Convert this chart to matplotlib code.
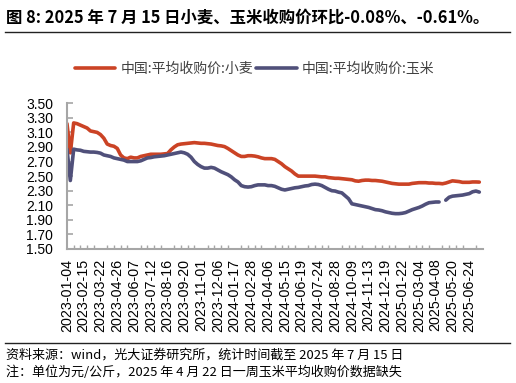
import numpy as np
import matplotlib
matplotlib.use("Agg")
import matplotlib.pyplot as plt
from matplotlib.lines import Line2D
from matplotlib.ticker import FixedLocator, FormatStrFormatter

plt.rcParams['font.family'] = ['Noto Sans CJK SC', 'DejaVu Sans']

# weekly purchase prices, yuan/kg (one value per week, 2023-01-04 .. 2025-07-15)
wheat = [3.22, 2.82, 3.23, 3.22, 3.20, 3.18, 3.16, 3.12, 3.11, 3.10,
         3.07, 3.02, 2.94, 2.92, 2.91, 2.88, 2.79, 2.75, 2.74, 2.76,
         2.75, 2.75, 2.77, 2.78, 2.79, 2.80, 2.80, 2.80, 2.80, 2.805,
         2.81, 2.86, 2.90, 2.93, 2.94, 2.945, 2.95, 2.955, 2.96, 2.955,
         2.95, 2.95, 2.945, 2.94, 2.93, 2.92, 2.915, 2.905, 2.88, 2.85,
         2.82, 2.79, 2.77, 2.77, 2.78, 2.78, 2.775, 2.765, 2.75, 2.74,
         2.74, 2.74, 2.73, 2.70, 2.67, 2.63, 2.60, 2.57, 2.53, 2.50,
         2.50, 2.50, 2.50, 2.50, 2.50, 2.495, 2.49, 2.49, 2.48, 2.475,
         2.47, 2.47, 2.465, 2.46, 2.455, 2.45, 2.435, 2.43, 2.44, 2.445,
         2.445, 2.44, 2.44, 2.435, 2.43, 2.42, 2.41, 2.40, 2.395, 2.39,
         2.39, 2.39, 2.39, 2.40, 2.405, 2.41, 2.41, 2.41, 2.405, 2.405,
         2.40, 2.40, 2.395, 2.405, 2.42, 2.435, 2.43, 2.425, 2.415, 2.415,
         2.415, 2.42, 2.42, 2.418]

# 2025-04-22 week missing for corn
corn = [2.87, 2.44, 2.87, 2.86, 2.855, 2.84, 2.835, 2.83, 2.83, 2.825,
        2.815, 2.79, 2.78, 2.77, 2.75, 2.74, 2.73, 2.72, 2.70, 2.70,
        2.70, 2.70, 2.71, 2.73, 2.75, 2.755, 2.765, 2.77, 2.775, 2.78,
        2.79, 2.80, 2.81, 2.82, 2.83, 2.82, 2.80, 2.76, 2.70, 2.66,
        2.63, 2.61, 2.61, 2.62, 2.61, 2.585, 2.56, 2.54, 2.52, 2.49,
        2.45, 2.42, 2.37, 2.355, 2.35, 2.355, 2.37, 2.38, 2.38, 2.38,
        2.37, 2.37, 2.36, 2.34, 2.32, 2.31, 2.32, 2.33, 2.34, 2.345,
        2.355, 2.365, 2.37, 2.385, 2.39, 2.385, 2.37, 2.345, 2.32, 2.30,
        2.295, 2.28, 2.27, 2.23, 2.19, 2.12, 2.11, 2.10, 2.09, 2.08,
        2.07, 2.055, 2.04, 2.035, 2.025, 2.01, 2.00, 1.99, 1.985, 1.985,
        1.99, 2.00, 2.02, 2.04, 2.055, 2.07, 2.09, 2.115, 2.135, 2.14,
        2.145, 2.145, np.nan, 2.17, 2.21, 2.225, 2.23, 2.235, 2.24, 2.25,
        2.26, 2.285, 2.295, 2.281]

# every fifth week is labelled
tick_labels = ['2023-01-04', '2023-02-15', '2023-03-22', '2023-04-26', '2023-06-07',
               '2023-07-12', '2023-08-16', '2023-09-20', '2023-11-01', '2023-12-06',
               '2024-01-17', '2024-02-28', '2024-04-06', '2024-05-15', '2024-06-19',
               '2024-07-24', '2024-08-28', '2024-10-09', '2024-11-13', '2024-12-19',
               '2025-01-22', '2025-03-04', '2025-04-08', '2025-05-20', '2025-06-24']

names = ['中国:平均收购价:小麦', '中国:平均收购价:玉米']
title = '图 8: 2025 年 7 月 15 日小麦、玉米收购价环比-0.08%、-0.61%。'
source = '资料来源：wind，光大证券研究所，统计时间截至 2025 年 7 月 15 日'
note = '注：单位为元/公斤，2025 年 4 月 22 日一周玉米平均收购价数据缺失'

RED = '#CB4325'
BLUE = '#50507A'
GREY = '#A6A6A6'


def main():
    fig = plt.figure(figsize=(5.16, 3.83), dpi=100)
    ax = fig.add_axes([0.1298, 0.3499, 0.8062, 0.3805])

    x = np.arange(len(wheat))
    ax.plot(x, wheat, color=RED, lw=2.6, solid_capstyle='round', label=names[0])
    ax.plot(x, corn, color=BLUE, lw=2.6, solid_capstyle='round', label=names[1])

    ax.set_xlim(0, len(wheat) + 0.1)
    ax.set_ylim(1.5, 3.5)
    ax.set_yticks(np.arange(1.5, 3.51, 0.2))
    ax.yaxis.set_major_formatter(FormatStrFormatter('%.2f'))

    ax.xaxis.set_major_locator(FixedLocator(x[::5]))
    ax.set_xticklabels(tick_labels, rotation=90)
    ax.xaxis.set_minor_locator(FixedLocator(x[::2]))

    for side in ['top', 'right']:
        ax.spines[side].set_visible(False)
    for side in ['left', 'bottom']:
        ax.spines[side].set_color(GREY)
        ax.spines[side].set_linewidth(1.5)

    ax.tick_params(axis='y', direction='in', length=4, width=1.2, color=GREY,
                   labelsize=10, pad=10)
    ax.tick_params(axis='x', which='major', length=0, labelsize=10.3, pad=7)
    ax.tick_params(axis='x', which='minor', direction='in', length=3, width=1, color=GREY)
    for lab in ax.get_xticklabels() + ax.get_yticklabels():
        lab.set_fontfamily('Liberation Sans')

    fig.legend(loc='center', bbox_to_anchor=(0.494, 0.82), ncol=2, frameon=False,
               fontsize=10, handlelength=2.9, handletextpad=0.4, columnspacing=0.2,
               labelcolor='#404040')

    fig.text(0.012, 1 - 18 / 383, title, fontsize=11.8, fontweight='bold', va='center')
    fig.add_artist(Line2D([5 / 516, 510 / 516], [1 - 31.7 / 383] * 2, color='#222222', lw=1))
    fig.add_artist(Line2D([5 / 516, 510 / 516], [1 - 342.7 / 383] * 2, color='#222222', lw=1))
    fig.text(0.012, 1 - 355 / 383, source, fontsize=9.4, va='center')
    fig.text(0.012, 1 - 372 / 383, note, fontsize=9.4, va='center')

    fig.savefig('out.png', dpi=100)


if __name__ == "__main__":
    main()
